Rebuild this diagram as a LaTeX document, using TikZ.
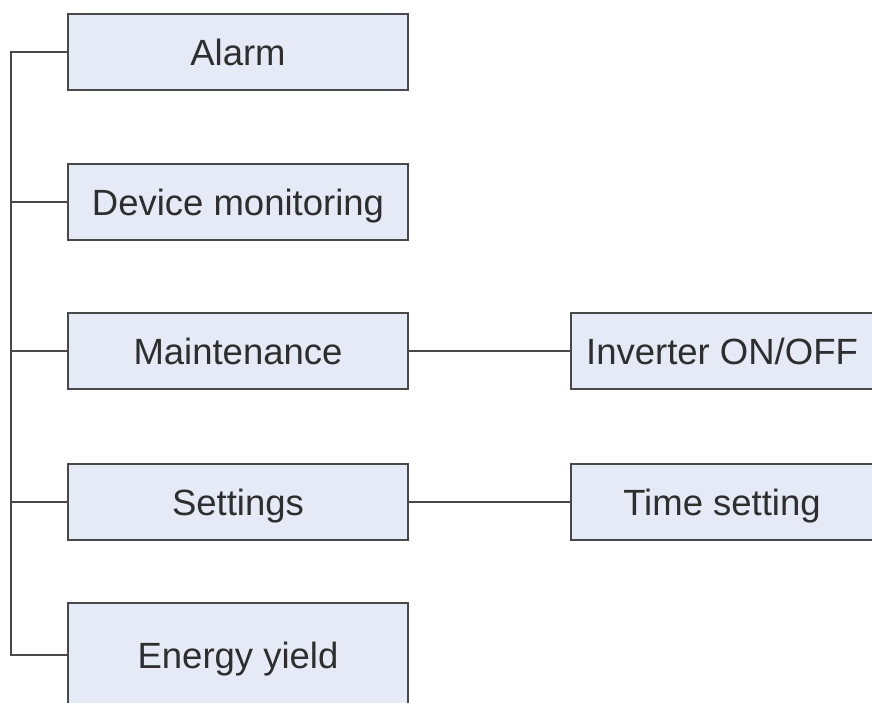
\documentclass[tikz,border=0pt]{standalone}
\usepackage{fontspec}
\setmainfont{Liberation Sans}
\usetikzlibrary{positioning}
\definecolor{boxfill}{RGB}{230,234,246}
\definecolor{boxline}{RGB}{72,72,72}
\tikzset{
	menubox/.style={draw=boxline, line width=2pt, fill=boxfill, minimum height=76pt, inner sep=0pt, text height=26pt, text depth=0pt, font=\fontsize{36.5}{40}\selectfont, text=black!82},
	link/.style={draw=boxline, line width=2pt}
}
\begin{document}
\begin{tikzpicture}[x=1pt,y=-1pt]
\clip (0,0) rectangle (872,702);
\node (alarm) [menubox,minimum width=340pt] at (238,52) {Alarm};
\node (device) [menubox,minimum width=340pt] at (238,202) {Device monitoring};
\node (maint) [menubox,minimum width=340pt] at (238,351) {Maintenance};
\node (settings) [menubox,minimum width=340pt] at (238,502) {Settings};
\node (energy) [menubox,minimum width=340pt,minimum height=104pt] at (238,655) {Energy yield};
\node (inverter) [menubox,minimum width=302pt] at (722,351) {Inverter ON/OFF};
\node (time) [menubox,minimum width=302pt] at (722,502) {Time setting};
\coordinate (spinetop) at (11,52);
\coordinate (spinebot) at (11,655);
\draw[link] (alarm.west) -- (spinetop) -- (spinebot) -- (energy.west);
\draw[link] (device.west) -- (device.west -| spinetop);
\draw[link] (maint.west) -- (maint.west -| spinetop);
\draw[link] (settings.west) -- (settings.west -| spinetop);
\draw[link] (maint.east) -- (inverter.west);
\draw[link] (settings.east) -- (time.west);
\end{tikzpicture}
\end{document}
